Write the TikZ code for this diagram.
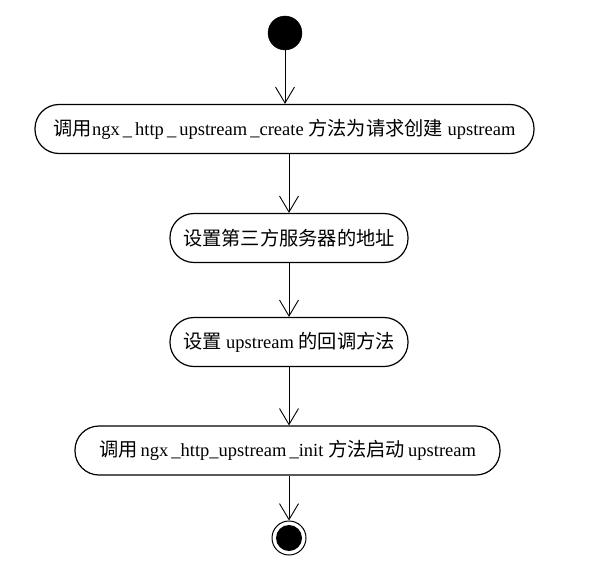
\documentclass[tikz,border=0pt]{standalone}
\usepackage{fontspec}
\setmainfont{Liberation Serif}
\newfontfamily\cjk{Noto Sans CJK SC}[Scale=1.04]
\usetikzlibrary{arrows.meta}
\begin{document}
\begin{tikzpicture}[x=1pt,y=-1pt,
  act/.style={draw, line width=1.2pt, rounded corners=24pt, minimum height=49pt, inner sep=0pt, font=\fontsize{18.5}{21}\selectfont},
  flow/.style={line width=0.9pt, -{Straight Barb[length=16pt,width=19pt,line width=0.9pt]}},
  startdot/.style={circle, fill=black, draw, minimum size=34pt, inner sep=0pt},
  enddot/.style={circle, draw, line width=1pt, minimum size=34pt, inner sep=0pt, path picture={\fill (path picture bounding box.center) circle (13pt);}}
]
\useasboundingbox (0,0) rectangle (596,567);
\node[startdot] (s) at (285,33) {};
\node[act, minimum width=499pt] (a1) at (284.5,129) {{\cjk 调用}ngx\,\_\,http\,\_\,upstream\,\_create {\cjk 方法为请求创建} upstream};
\node[act, minimum width=238pt] (a2) at (289,238) {{\cjk 设置第三方服务器的地址}};
\node[act, minimum width=238pt] (a3) at (289,342) {{\cjk 设置} upstream {\cjk 的回调方法}};
\node[act, minimum width=425pt] (a4) at (287.5,450.5) {{\cjk 调用}\,ngx\,\_http\_upstream\,\_init {\cjk 方法启动}\,upstream};
\node[enddot] (e) at (289,538) {};
\draw[flow] (s) -- (a1.north -| s);
\draw[flow] (a1.south -| a2) -- (a2.north);
\draw[flow] (a2) -- (a3);
\draw[flow] (a3.south) -- (a4.north -| a3);
\draw[flow] (a4.south -| e) -- (e);
\end{tikzpicture}
\end{document}
